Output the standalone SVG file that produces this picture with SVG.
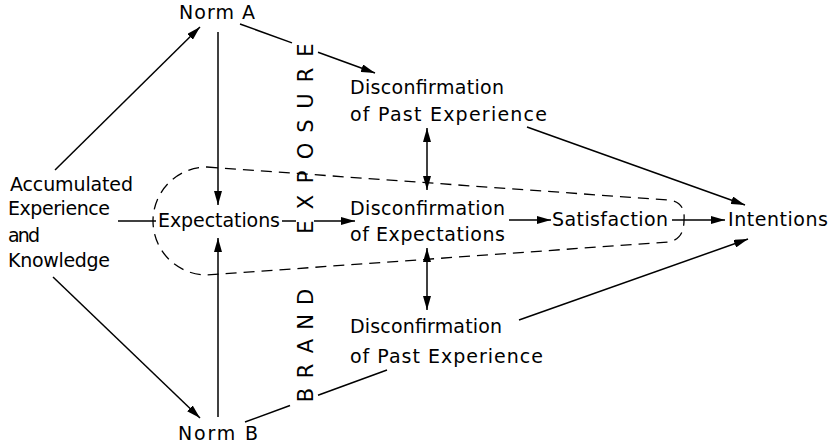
<svg xmlns="http://www.w3.org/2000/svg" width="834" height="446" viewBox="0 0 834 446">
<style>
text{font-family:"DejaVu Sans","Liberation Sans",sans-serif;font-size:19px;fill:#000}
.ln{stroke:#000;stroke-width:1.5;fill:none}
.arr{marker-end:url(#ah)}
.dbl{marker-end:url(#ah);marker-start:url(#ah)}
.dash{stroke:#000;stroke-width:1.3;fill:none;stroke-dasharray:11 7}
.rot{font-size:21px}
</style>
<defs>
<marker id="ah" viewBox="0 0 14 8" refX="14" refY="4" markerWidth="14" markerHeight="8" orient="auto-start-reverse" markerUnits="userSpaceOnUse">
<path d="M0,0 L14,4 L0,8 Z" fill="#000"/>
</marker>
</defs>
<rect width="834" height="446" fill="#fff"/>

<g id="brand-exposure">
<text class="rot" transform="translate(313,0) rotate(-90)" text-anchor="middle" x="-395 -371 -346 -322 -297 -227 -202 -177 -151 -126 -101 -75 -50" y="0">BRANDEXPOSURE</text>
</g>

<g id="loop">
<path class="dash" d="M207,167 L668,200 C680,201 685,208 684,220 C684,232 680,240 668,242 L207,275 A54,54 0 0 1 207,167 Z"/>
</g>

<g id="connectors">
<line class="ln arr" x1="55" y1="170" x2="200" y2="27"/>
<line class="ln arr" x1="53" y1="277" x2="200" y2="418"/>
<line class="ln arr" x1="218" y1="32" x2="218" y2="205"/>
<line class="ln arr" x1="218" y1="417" x2="218" y2="238"/>
<line class="ln" x1="118" y1="221" x2="156" y2="221"/>
<line class="ln" x1="282" y1="221" x2="296" y2="221"/>
<line class="ln arr" x1="314" y1="221" x2="355" y2="221"/>
<line class="ln" x1="240" y1="24" x2="292" y2="42.9"/>
<line class="ln arr" x1="318" y1="52.3" x2="375" y2="73"/>
<line class="ln" x1="245" y1="422" x2="290" y2="405.5"/>
<line class="ln" x1="318" y1="395.3" x2="387" y2="370"/>
<line class="ln dbl" x1="427" y1="128" x2="427" y2="190"/>
<line class="ln dbl" x1="427" y1="248" x2="427" y2="310"/>
<line class="ln arr" x1="509" y1="220" x2="551" y2="220"/>
<line class="ln arr" x1="672" y1="220" x2="725" y2="220"/>
<line class="ln arr" x1="527" y1="127" x2="745" y2="205"/>
<line class="ln arr" x1="519" y1="320" x2="748" y2="239"/>
</g>

<g id="norm-a"><text x="179" y="19" textLength="76">Norm A</text></g>
<g id="norm-b"><text x="178" y="440" textLength="80">Norm B</text></g>
<g id="accumulated">
<text x="10" y="191" textLength="123">Accumulated</text>
<text x="8" y="215" textLength="102">Experience</text>
<text x="8" y="242" textLength="32">and</text>
<text x="8" y="267" textLength="102">Knowledge</text>
</g>
<g id="expectations"><text x="158" y="227" textLength="122">Expectations</text></g>
<g id="disconf-past-upper">
<text x="350" y="94" textLength="154">Disconfirmation</text>
<text x="350" y="121" textLength="197">of  Past  Experience</text>
</g>
<g id="disconf-expectations">
<text x="350" y="215" textLength="155">Disconfirmation</text>
<text x="350" y="241" textLength="155">of  Expectations</text>
</g>
<g id="disconf-past-lower">
<text x="350" y="333" textLength="152">Disconfirmation</text>
<text x="350" y="363" textLength="193">of  Past  Experience</text>
</g>
<g id="satisfaction"><text x="552" y="226" textLength="116">Satisfaction</text></g>
<g id="intentions"><text x="728" y="226" textLength="100">Intentions</text></g>
</svg>
